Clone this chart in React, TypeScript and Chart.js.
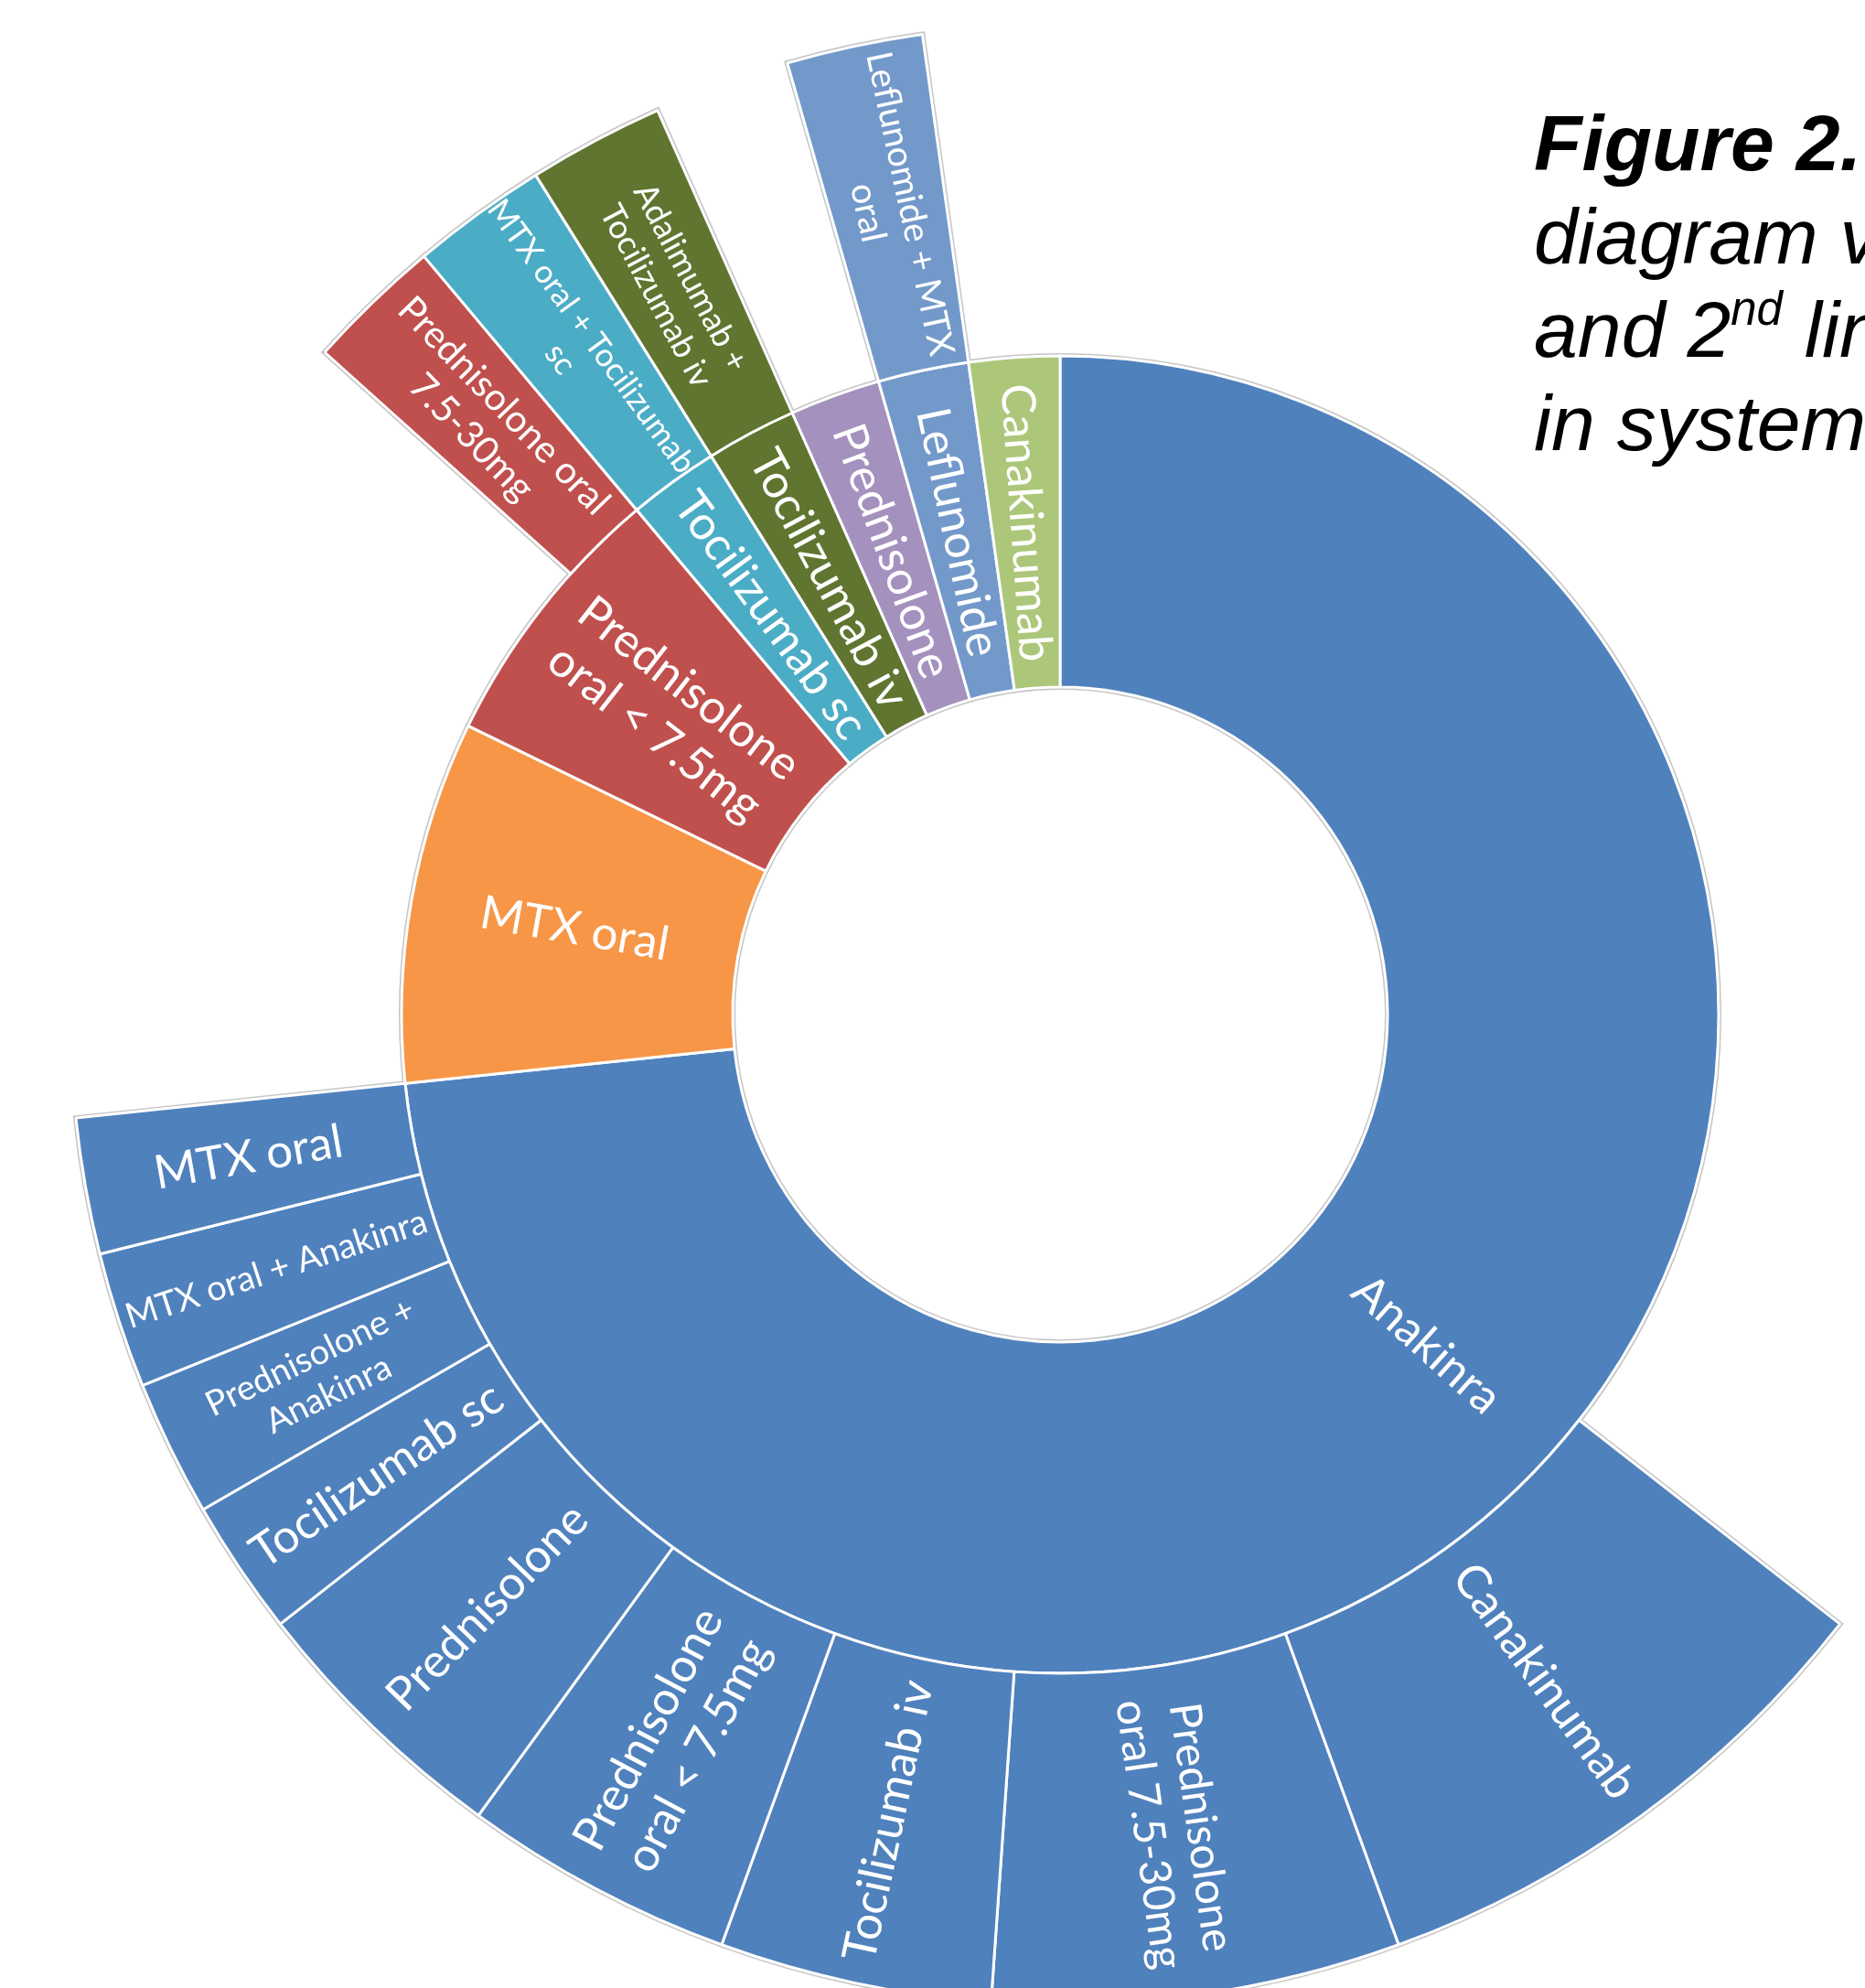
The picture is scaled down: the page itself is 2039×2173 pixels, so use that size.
import React, { useEffect, useRef } from 'react';
import { Chart, registerables } from 'chart.js';

Chart.register(...registerables);

// ---- Data (first-line and second-line treatments, number of patients) ----
const firstLineNames = [
  'Anakinra',
  'MTX oral',
  'Prednisolone oral < 7.5mg',
  'Tocilizumab sc',
  'Tocilizumab iv',
  'Prednisolone',
  'Leflunomide',
  'Canakinumab',
];
const firstLineCounts = [33, 4, 3, 1, 1, 1, 1, 1];

const secondLineParents = [
  'Anakinra', 'Anakinra', 'Anakinra', 'Anakinra', 'Anakinra', 'Anakinra', 'Anakinra', 'Anakinra', 'Anakinra',
  'Prednisolone oral < 7.5mg',
  'Tocilizumab sc',
  'Tocilizumab iv',
  'Leflunomide',
];
const secondLineNames = [
  'Canakinumab',
  'Prednisolone oral 7.5-30mg',
  'Tocilizumab iv',
  'Prednisolone oral < 7.5mg',
  'Prednisolone',
  'Tocilizumab sc',
  'Prednisolone + Anakinra',
  'MTX oral + Anakinra',
  'MTX oral',
  'Prednisolone oral 7.5-30mg',
  'MTX oral + Tocilizumab sc',
  'Adalimumab + Tocilizumab iv',
  'Leflunomide + MTX oral',
];
const secondLineCounts = [4, 3, 2, 2, 2, 1, 1, 1, 1, 1, 1, 1, 1];

// ---- Styles ----
const categoryColors: Record<string, string> = {
  'Anakinra': '#4F81BD',
  'MTX oral': '#F79646',
  'Prednisolone oral < 7.5mg': '#C0504D',
  'Tocilizumab sc': '#4BACC6',
  'Tocilizumab iv': '#607530',
  'Prednisolone': '#A591BE',
  'Leflunomide': '#7299CA',
  'Canakinumab': '#ADC77A',
};

const DEFAULT_LABEL_SIZE = 51;
const labelLayout: Record<string, { lines: string[]; size: number }> = {
  '1||Prednisolone oral < 7.5mg': { lines: ['Prednisolone', 'oral < 7.5mg'], size: 51 },
  '2|Anakinra|Prednisolone oral 7.5-30mg': { lines: ['Prednisolone', 'oral 7.5-30mg'], size: 48 },
  '2|Anakinra|Prednisolone oral < 7.5mg': { lines: ['Prednisolone', 'oral < 7.5mg'], size: 51 },
  '2|Anakinra|Prednisolone + Anakinra': { lines: ['Prednisolone +', 'Anakinra'], size: 38 },
  '2|Anakinra|MTX oral + Anakinra': { lines: ['MTX oral + Anakinra'], size: 38 },
  '2|Prednisolone oral < 7.5mg|Prednisolone oral 7.5-30mg': { lines: ['Prednisolone oral', '7.5-30mg'], size: 41 },
  '2|Tocilizumab sc|MTX oral + Tocilizumab sc': { lines: ['MTX oral + Tocilizumab', 'sc'], size: 35 },
  '2|Tocilizumab iv|Adalimumab + Tocilizumab iv': { lines: ['Adalimumab +', 'Tocilizumab iv'], size: 36 },
  '2|Leflunomide|Leflunomide + MTX oral': { lines: ['Leflunomide + MTX', 'oral'], size: 39 },
};

const CHART_LEFT = 77;
const CHART_TOP = 27;
const OUTER_R = 1082;
const HOLE_R = 358;
const TRANSPARENT = 'rgba(0,0,0,0)';

const outlinePlugin = {
  id: 'sunburstOutline',
  beforeDatasetsDraw(chart: any) {
    const ctx = chart.ctx;
    ctx.save();
    ctx.strokeStyle = '#C6C6C6';
    ctx.lineWidth = 6;
    ctx.lineJoin = 'miter';
    chart.data.datasets.forEach((ds: any, d: number) => {
      const meta = chart.getDatasetMeta(d);
      meta.data.forEach((arc: any, i: number) => {
        if (ds.backgroundColor[i] === TRANSPARENT) return;
        const p = arc.getProps(['x', 'y', 'startAngle', 'endAngle', 'innerRadius', 'outerRadius'], true);
        ctx.beginPath();
        ctx.arc(p.x, p.y, p.outerRadius, p.startAngle, p.endAngle);
        ctx.arc(p.x, p.y, p.innerRadius, p.endAngle, p.startAngle, true);
        ctx.closePath();
        ctx.stroke();
      });
    });
    ctx.restore();
  },
};

const labelPlugin = {
  id: 'sunburstLabels',
  afterDatasetsDraw(chart: any) {
    const ctx = chart.ctx;
    chart.data.datasets.forEach((ds: any, d: number) => {
      const meta = chart.getDatasetMeta(d);
      meta.data.forEach((arc: any, i: number) => {
        const key = ds.labelKeys[i];
        if (!key) return;
        const name = ds.labelNames[i];
        const layout = labelLayout[key] || { lines: [name], size: DEFAULT_LABEL_SIZE };
        const p = arc.getProps(['x', 'y', 'startAngle', 'endAngle', 'innerRadius', 'outerRadius'], true);
        const mid = (p.startAngle + p.endAngle) / 2;
        const rMid = (p.innerRadius + p.outerRadius) / 2;
        const px = p.x + rMid * Math.cos(mid);
        const py = p.y + rMid * Math.sin(mid);
        let theta = ((mid + Math.PI / 2) * 180) / Math.PI;
        theta = ((theta % 360) + 360) % 360;
        const rot = theta <= 180 ? mid : mid + Math.PI;
        ctx.save();
        ctx.translate(px, py);
        ctx.rotate(rot);
        ctx.fillStyle = '#FFFFFF';
        ctx.font = `${layout.size}px Lato, "Open Sans", sans-serif`;
        ctx.textAlign = 'center';
        ctx.textBaseline = 'middle';
        const lh = layout.size * 1.2;
        const n = layout.lines.length;
        layout.lines.forEach((ln, k) => {
          ctx.fillText(ln, 0, (k - (n - 1) / 2) * lh);
        });
        ctx.restore();
      });
    });
  },
};

export default function App() {
  const ref = useRef<HTMLCanvasElement>(null);

  useEffect(() => {
    if (!ref.current) return;
    const outerValues: number[] = [];
    const outerColors: string[] = [];
    const outerKeys: string[] = [];
    const outerNames: string[] = [];
    const outerBorders: number[] = [];
    firstLineNames.forEach((parent, i) => {
      const kids = secondLineNames
        .map((n, j) => ({ n, v: secondLineCounts[j], p: secondLineParents[j] }))
        .filter((k) => k.p === parent);
      const rest = firstLineCounts[i] - kids.reduce((s, k) => s + k.v, 0);
      if (rest > 0) {
        outerValues.push(rest);
        outerColors.push(TRANSPARENT);
        outerKeys.push('');
        outerNames.push('');
        outerBorders.push(0);
      }
      kids.forEach((k) => {
        outerValues.push(k.v);
        outerColors.push(categoryColors[parent]);
        outerKeys.push(`2|${parent}|${k.n}`);
        outerNames.push(k.n);
        outerBorders.push(3);
      });
    });

    const chart = new Chart(ref.current, {
      type: 'doughnut',
      data: {
        labels: outerNames,
        datasets: [
          {
            data: outerValues,
            backgroundColor: outerColors,
            borderColor: '#FFFFFF',
            borderWidth: outerBorders,
            labelKeys: outerKeys,
            labelNames: outerNames,
          } as any,
          {
            data: firstLineCounts,
            backgroundColor: firstLineNames.map((n) => categoryColors[n]),
            borderColor: '#FFFFFF',
            borderWidth: 3,
            labelKeys: firstLineNames.map((n) => `1||${n}`),
            labelNames: firstLineNames,
          } as any,
        ],
      },
      options: {
        responsive: true,
        maintainAspectRatio: false,
        animation: false,
        events: [],
        radius: OUTER_R,
        cutout: `${(HOLE_R / OUTER_R) * 100}%`,
        layout: { padding: 0 },
        plugins: {
          legend: { display: false },
          tooltip: { enabled: false },
        },
      } as any,
      plugins: [outlinePlugin, labelPlugin],
    });
    return () => chart.destroy();
  }, []);

  const titleFont = 'italic 86px "Liberation Sans", Arial, sans-serif';
  const lineStyle = (i: number): React.CSSProperties => ({
    position: 'absolute',
    left: 1677,
    top: 105 + i * 102,
    font: titleFont,
    lineHeight: '102px',
    whiteSpace: 'nowrap',
    color: '#000',
  });

  return (
    <div
      style={{
        position: 'absolute',
        left: 0,
        top: 0,
        width: 2039,
        height: 2173,
        overflow: 'hidden',
        background: '#FFFFFF',
      }}
    >
      <div style={{ position: 'absolute', left: CHART_LEFT, top: CHART_TOP, width: 2 * OUTER_R, height: 2 * OUTER_R }}>
        <canvas ref={ref} style={{ display: 'block' }} />
      </div>
      <div style={lineStyle(0)}>
        <span style={{ fontWeight: 'bold' }}>Figure 2.</span> Sunburst
      </div>
      <div style={lineStyle(1)}>diagram visualising 1st</div>
      <div style={lineStyle(2)}>
        and 2
        <span style={{ fontSize: 51, lineHeight: 0, position: 'relative', top: -35 }}>nd</span> line treatment
      </div>
      <div style={lineStyle(3)}>in systemic JIA</div>
    </div>
  );
}
